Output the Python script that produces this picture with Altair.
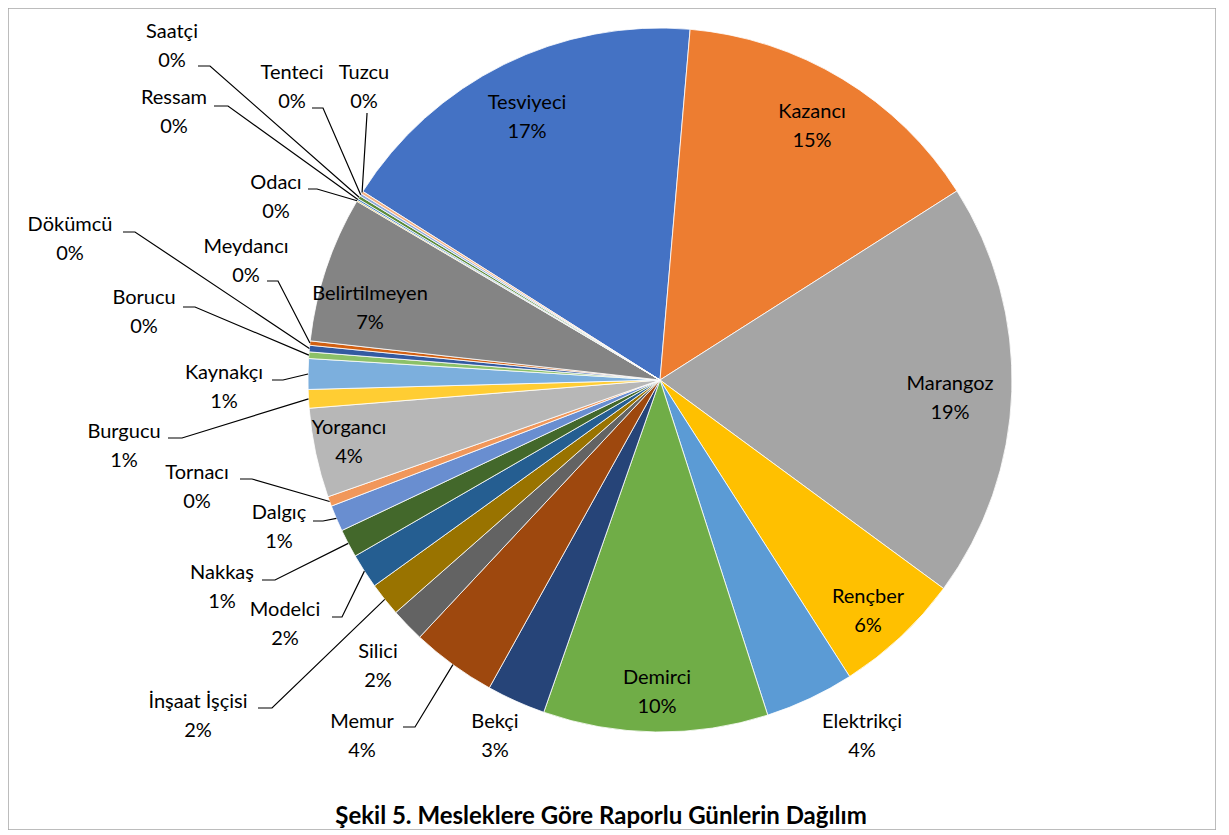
import math
import altair as alt
import pandas as pd

# ---------------- data ----------------
NAMES = ["Tesviyeci", "Kazancı", "Marangoz", "Rençber", "Elektrikçi", "Demirci",
         "Bekçi", "Memur", "Silici", "İnşaat İşçisi", "Modelci", "Nakkaş",
         "Dalgıç", "Tornacı", "Yorgancı", "Burgucu", "Kaynakçı", "Borucu",
         "Dökümcü", "Meydancı", "Belirtilmeyen", "Odacı", "Ressam", "Saatçi",
         "Tenteci", "Tuzcu"]
VALUES = [17.35, 14.6, 19.1, 5.85, 4.1, 10.3,
          2.7, 3.9, 1.55, 1.55, 1.6, 1.3,
          1.2, 0.45, 4.1, 0.85, 1.4, 0.3,
          0.3, 0.2, 6.7, 0.05, 0.08, 0.15,
          0.12, 0.12]
COLORS = ["#4472C4", "#ED7D31", "#A5A5A5", "#FFC000", "#5B9BD5", "#70AD47",
          "#264478", "#9E480E", "#636363", "#997300", "#255E91", "#43682B",
          "#698ED0", "#F1975A", "#B7B7B7", "#FFCD33", "#7CAFDD", "#8CC168",
          "#335AA1", "#D26012", "#848484", "#CC9A00", "#3C7DC4", "#5A8A39",
          "#8FAADC", "#F4B183"]
TITLE = "Şekil 5. Mesleklere Göre Raporlu Günlerin Dağılım"

# ---------------- layout ----------------
W, H = 1208, 822          # frame (view) size
M = 8                     # page margin
CX, CY, R = 660 - M, 380 - M, 352
START_DEG = 302.4
LINE_GAP = 29
FONT = "Lato"
FS = 20

# centre of first label line (page coordinates)
LABEL_POS = {
    "Tesviyeci": (527, 103), "Kazancı": (812, 112), "Marangoz": (950, 384),
    "Rençber": (868, 597), "Elektrikçi": (862, 722), "Demirci": (657, 678),
    "Bekçi": (495, 722), "Memur": (362, 722), "Silici": (378, 652),
    "İnşaat İşçisi": (198, 702), "Modelci": (285, 610), "Nakkaş": (222, 573),
    "Dalgıç": (279, 513), "Tornacı": (197, 473), "Yorgancı": (349, 428),
    "Burgucu": (124, 432), "Kaynakçı": (224, 373), "Borucu": (144, 298),
    "Dökümcü": (70, 225), "Meydancı": (246, 247), "Belirtilmeyen": (370, 294),
    "Odacı": (276, 183), "Ressam": (174, 98), "Saatçi": (172, 32),
    "Tenteci": (292, 73), "Tuzcu": (364, 73),
}
# leader line: label attach point and elbow (page coordinates)
LEADERS = {
    "Saatçi": ((198, 66), (210, 66)), "Ressam": ((214, 106), (228, 106)),
    "Tenteci": ((312, 108), (323, 108)), "Tuzcu": ((367, 113), (367, 114)),
    "Odacı": ((308, 189), (317, 189)), "Dökümcü": ((123, 232), (135, 232)),
    "Meydancı": ((267, 281), (278, 281)), "Borucu": ((183, 307), (195, 307)),
    "Kaynakçı": ((272, 380), (283, 380)), "Burgucu": ((168, 438), (182, 438)),
    "Tornacı": ((240, 479), (252, 479)), "Dalgıç": ((313, 521), (323, 521)),
    "Nakkaş": ((262, 580), (275, 580)), "Modelci": ((332, 617), (342, 617)),
    "İnşaat İşçisi": ((258, 708), (272, 708)), "Memur": ((403, 727), (415, 727)),
}

total = sum(VALUES)
start = math.radians(START_DEG)

pie = pd.DataFrame({"name": NAMES, "value": VALUES, "idx": range(len(NAMES))})

# mid-angle of every slice, from the values
mids = {}
cum = 0.0
for n, v in zip(NAMES, VALUES):
    a0 = start + 2 * math.pi * cum / total
    cum += v
    a1 = start + 2 * math.pi * cum / total
    mids[n] = (a0 + a1) / 2

lab_rows = []
for n, v in zip(NAMES, VALUES):
    x, y = LABEL_POS[n]
    lab_rows.append({"name": n, "pct": f"{int(100 * v / total + 0.5)}%",
                     "x": x - M, "y": y - M, "y2": y - M + LINE_GAP})
labels = pd.DataFrame(lab_rows)

line_rows = []
for n, (a, b) in LEADERS.items():
    m = mids[n]
    ex = CX + R * math.sin(m)
    ey = CY - R * math.cos(m)
    line_rows += [{"name": n, "k": 0, "x": a[0] - M, "y": a[1] - M},
                  {"name": n, "k": 1, "x": b[0] - M, "y": b[1] - M},
                  {"name": n, "k": 2, "x": ex, "y": ey}]
lines = pd.DataFrame(line_rows)

arcs = alt.Chart(pie).mark_arc(outerRadius=R, stroke="white", strokeWidth=0.8).encode(
    theta=alt.Theta("value:Q", stack=True,
                    scale=alt.Scale(domain=[0, total], range=[start, start + 2 * math.pi], nice=False)),
    order=alt.Order("idx:Q", sort="ascending"),
    color=alt.Color("name:N", scale=alt.Scale(domain=NAMES, range=COLORS), legend=None),
    x=alt.value(CX), y=alt.value(CY),
)

leader = alt.Chart(lines).mark_line(color="black", strokeWidth=1.2).encode(
    x=alt.X("x:Q", scale=None, axis=None),
    y=alt.Y("y:Q", scale=None, axis=None),
    detail="name:N",
    order=alt.Order("k:Q"),
)

txt_name = alt.Chart(labels).mark_text(font=FONT, fontSize=FS, color="black",
                                       align="center", baseline="middle").encode(
    x=alt.X("x:Q", scale=None, axis=None),
    y=alt.Y("y:Q", scale=None, axis=None),
    text="name:N",
)
txt_pct = alt.Chart(labels).mark_text(font=FONT, fontSize=FS, color="black",
                                      align="center", baseline="middle").encode(
    x=alt.X("x:Q", scale=None, axis=None),
    y=alt.Y("y2:Q", scale=None, axis=None),
    text="pct:N",
)

title = alt.Chart(pd.DataFrame({"t": [TITLE]})).mark_text(
    font=FONT, fontSize=24, fontWeight="bold", color="black",
    align="center", baseline="middle").encode(
    x=alt.value(601 - M), y=alt.value(817 - M), text="t:N")

chart = alt.layer(arcs, leader, txt_name, txt_pct, title).properties(
    width=W, height=H, padding=0,
    autosize=alt.AutoSizeParams(type="none"),
).configure_view(stroke="#A6A6A6", strokeWidth=1.5)

chart.save("out.html", embed_options={"renderer": "svg", "actions": False})
